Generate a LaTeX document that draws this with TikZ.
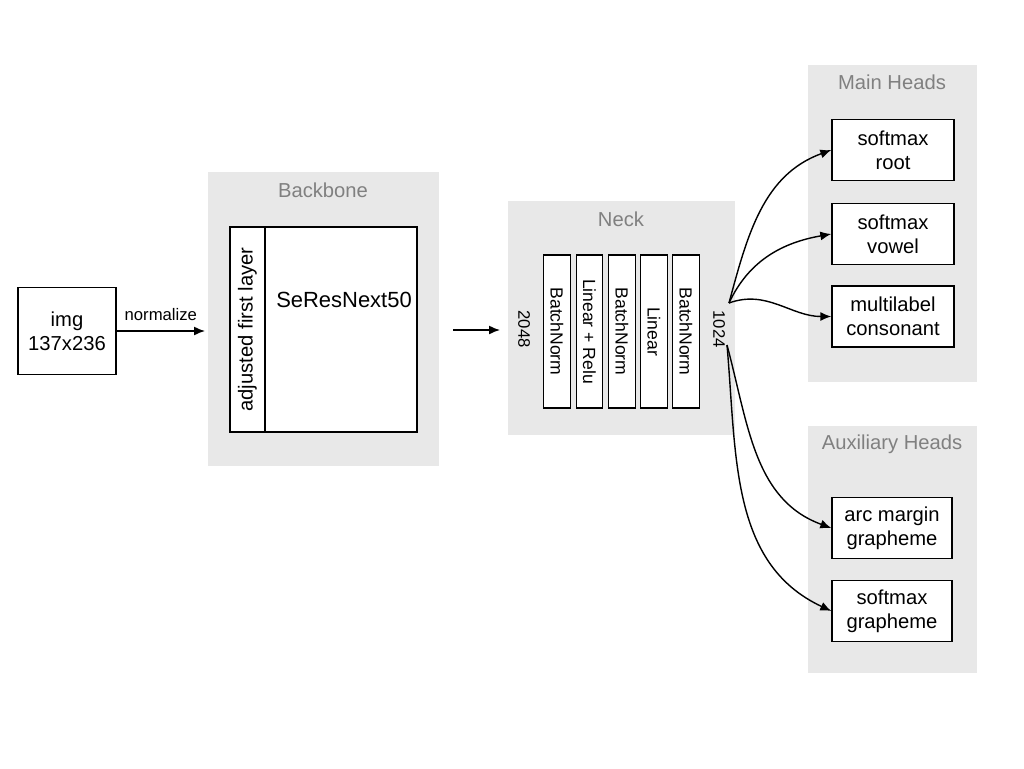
\documentclass[tikz,border=0pt]{standalone}
\usepackage{fontspec}
\setmainfont{Liberation Sans}
\usetikzlibrary{arrows.meta,positioning}
\begin{document}
\begin{tikzpicture}[
    x=0.02cm, y=-0.02cm,
    groupbox/.style={fill=black!9, draw=none},
    grouptitle/.style={font=\fontsize{11.5}{13}\selectfont, text=black!50},
    headnode/.style={draw, thick, fill=white, minimum width=2.44cm, minimum height=1.22cm, align=center, font=\fontsize{11.5}{13.5}\selectfont, inner sep=0pt},
    barnode/.style={draw, thick, fill=white, minimum width=3.06cm, minimum height=0.53cm, rotate=-90, font=\fontsize{10}{12}\selectfont, inner sep=0pt},
    arr/.style={-{Latex[length=2.2mm,width=1.8mm]}, thick}
]
\useasboundingbox (0,0) rectangle (1024,768);

% Input
\node[draw, thick, minimum width=1.96cm, minimum height=1.74cm, align=center, font=\fontsize{11.5}{13.5}\selectfont] (img) at (67,331) {img\\137x236};

% Backbone
\fill[groupbox] (208,172) rectangle (439,466);
\node[grouptitle] (bbtitle) at (323,190) {Backbone};
\node[draw, thick, fill=white, minimum width=3.74cm, minimum height=4.1cm] (backbone) at (323.5,329.5) {};
\node[draw, thick, fill=white, minimum width=4.1cm, minimum height=0.7cm, rotate=90, font=\fontsize{11.5}{13.5}\selectfont, inner sep=0pt] (firstlayer) at (247.5,329.5) {adjusted first layer};
\node[font=\fontsize{12.5}{14}\selectfont] (seresnext) at (344,300) {SeResNext50};

\draw[arr] (img.east) -- node[above, font=\fontsize{9.5}{11}\selectfont, yshift=2pt] {normalize} (205,331);

% Neck
\fill[groupbox] (508,201) rectangle (735,435);
\node[grouptitle] (necktitle) at (621,219) {Neck};
\foreach \x/\name/\lbl in {557/bnA/BatchNorm, 589.5/linA/Linear + Relu, 622/bnB/BatchNorm, 654/linB/Linear, 686/bnC/BatchNorm} {
    \node[barnode] (\name) at (\x,331.5) {\lbl};
}
\node[rotate=-90, font=\fontsize{9.5}{11}\selectfont] (inlbl) at (524,329) {2048};
\node[rotate=-90, font=\fontsize{9.5}{11}\selectfont] (outlbl) at (719,329) {1024};
\coordinate (neckin) at (453,330);
\coordinate (neckout) at (500,330);
\draw[arr] (neckin) -- (neckout);

% Main heads
\fill[groupbox] (808,65) rectangle (977,382);
\node[grouptitle] (maintitle) at (892,82) {Main Heads};
\node[headnode] (root) at (893,150) {softmax\\root};
\node[headnode] (vowel) at (893,234) {softmax\\vowel};
\node[headnode] (consonant) at (893,316.5) {multilabel\\consonant};

% Auxiliary heads
\fill[groupbox] (808,426) rectangle (977,673);
\node[grouptitle] (auxtitle) at (892,444) {Auxiliary Heads};
\node[headnode, minimum width=2.4cm] (arcmargin) at (892,528) {arc margin\\grapheme};
\node[headnode, minimum width=2.4cm] (grapheme) at (892,611) {softmax\\grapheme};

% Head connectors
\coordinate (splitA) at (729,303);
\coordinate (splitB) at (727,345);
\draw[arr] (splitA) to[out=75, in=200] (root.west);
\draw[arr] (splitA) to[out=65, in=190] (vowel.west);
\draw[arr] (splitA) to[out=20, in=180] (consonant.west);
\draw[arr] (splitB) to[out=-75, in=160] (arcmargin.west);
\draw[arr] (splitB) to[out=-85, in=155] (grapheme.west);

\end{tikzpicture}
\end{document}
